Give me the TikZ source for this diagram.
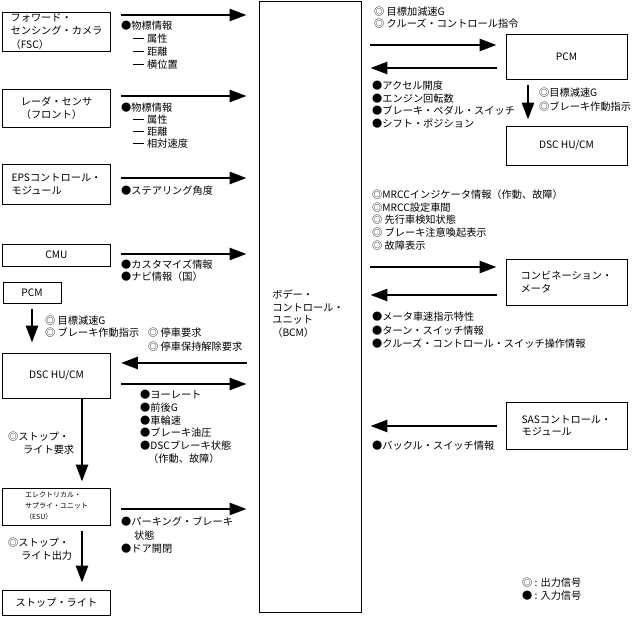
\documentclass[tikz,border=0pt]{standalone}
\usepackage{fontspec}
\setmainfont{Noto Sans CJK JP}
\usetikzlibrary{arrows.meta}
\newcommand\fsz[1]{\fontsize{10.2}{#1}\selectfont}
\newcommand\dashitem{\hspace{12pt}\rule[3.4pt]{11pt}{0.8pt}\hspace{3pt}}
\tikzset{
  every node/.style={font=\fsz{12.5}},
  box/.style={draw, line width=0.9pt, minimum width=108pt, align=left, inner sep=0pt},
  sig/.style={line width=2.6pt, -{Triangle[length=17pt,width=12pt]}},
  txt/.style={anchor=north west, align=left, inner sep=0pt},
}
\begin{document}
\begin{tikzpicture}[x=1pt,y=-1pt]
\useasboundingbox (0,0) rectangle (634,617);
% left boxes
\node[box, minimum height=39pt, font=\fsz{13.5}] (fsc) at (56.5,31.5) {フォワード・\\センシング・カメラ\\（FSC）};
\node[box, minimum height=38pt] (radar) at (56.5,108) {レーダ・センサ\\（フロント）};
\node[box, minimum height=40pt] (eps) at (56.5,184) {EPSコントロール・\\モジュール};
\node[box, minimum height=22pt] (cmu) at (56.5,255) {CMU};
\node[box, minimum width=58pt, minimum height=21pt] (pcmL) at (32,292.5) {PCM};
\node[box, minimum height=45pt] (dscL) at (56.5,375.5) {DSC HU/CM};
\node[box, minimum height=37pt, font=\fontsize{7}{11}\selectfont] (esu) at (56.5,506.5) {エレクトリカル・\\サプライ・ユニット\\（ESU）};
\node[box, minimum height=25pt] (stop) at (56.5,602.5) {ストップ・ライト};
% BCM
\node[draw, line width=0.9pt, minimum width=102pt, minimum height=611pt, inner sep=0pt] (bcm) at (310,306.5) {};
\node[txt, anchor=center] (bcmtxt) at (308,313.5) {ボデー・\\コントロール・\\ユニット\\（BCM）};
% right boxes
\node[box, minimum width=121pt, minimum height=45pt] (pcmR) at (566.5,56.5) {PCM};
\node[box, minimum width=121pt, minimum height=39pt] (dscR) at (566.5,145.5) {DSC HU/CM};
\node[box, minimum width=121pt, minimum height=46pt] (meter) at (566.5,282) {コンビネーション・\\メータ};
\node[box, minimum width=121pt, minimum height=47pt] (sas) at (566.5,425.5) {SASコントロール・\\モジュール};
% left arrows
\draw[sig, shorten <=10pt, shorten >=12pt] (fsc.east |- 0,15) -- (bcm.west |- 0,15);
\draw[sig, shorten <=10pt, shorten >=12pt] (radar.east |- 0,96) -- (bcm.west |- 0,96);
\draw[sig, shorten <=10pt, shorten >=12pt] (eps.east |- 0,178) -- (bcm.west |- 0,178);
\draw[sig, shorten <=10pt, shorten >=12pt] (cmu.east |- 0,254) -- (bcm.west |- 0,254);
\draw[sig, shorten <=12pt, shorten >=10pt] (bcm.west |- 0,363) -- (dscL.east |- 0,363);
\draw[sig, shorten <=10pt, shorten >=12pt] (dscL.east |- 0,384) -- (bcm.west |- 0,384);
\draw[sig, shorten <=10pt, shorten >=12pt] (esu.east |- 0,509) -- (bcm.west |- 0,509);
% vertical arrows
\draw[sig, shorten <=6pt, shorten >=10pt] (pcmL.south) -- (pcmL.south |- dscL.north);
\draw[sig, shorten >=6pt] (82,0 |- dscL.south) -- (82,0 |- esu.north);
\draw[sig, shorten <=6pt, shorten >=7pt] (82,0 |- esu.south) -- (82,0 |- stop.north);
\draw[sig, shorten <=6pt, shorten >=6pt] (528,0 |- pcmR.south) -- (528,0 |- dscR.north);
% right arrows
\draw[sig, shorten <=9pt, shorten >=9pt] (bcm.east |- 0,45) -- (pcmR.west |- 0,45);
\draw[sig, shorten <=9pt, shorten >=9pt] (pcmR.west |- 0,68) -- (bcm.east |- 0,68);
\draw[sig, shorten <=9pt, shorten >=9pt] (bcm.east |- 0,267) -- (meter.west |- 0,267);
\draw[sig, shorten <=9pt, shorten >=9pt] (meter.west |- 0,295) -- (bcm.east |- 0,295);
\draw[sig, shorten <=9pt, shorten >=9pt] (sas.west |- 0,426) -- (bcm.east |- 0,426);
% left labels
\node[txt, font=\fsz{13}] (l1) at (121,20.8) {●物標情報\\\dashitem 属性\\\dashitem 距離\\\dashitem 横位置};
\node[txt, font=\fsz{12}] (l2) at (121,102.8) {●物標情報\\\dashitem 属性\\\dashitem 距離\\\dashitem 相対速度};
\node[txt] (l3) at (121,185.8) {●ステアリング角度};
\node[txt, font=\fsz{11.5}] (l4) at (121,259.8) {●カスタマイズ情報\\●ナビ情報（国）};
\node[txt, font=\fsz{12}] (l5) at (45,315.8) {◎ 目標減速G\\◎ ブレーキ作動指示};
\node[txt, font=\fsz{14}] (l6) at (148,327.8) {◎ 停車要求\\◎ 停車保持解除要求};
\node[txt, font=\fsz{12.8}] (l7) at (140,389.8) {●ヨーレート\\●前後G\\●車輪速\\●ブレーキ油圧\\●DSCブレーキ状態\\\hspace{8pt}（作動、故障）};
\node[txt, font=\fsz{13}] (l8) at (8,431.8) {◎ストップ・\\\hspace{15pt}ライト要求};
\node[txt, font=\fsz{13.5}] (l9) at (121,516.8) {●パーキング・ブレーキ\\\hspace{13pt}状態\\●ドア開閉};
\node[txt, font=\fsz{13}] (l10) at (8,537.8) {◎ストップ・\\\hspace{13pt}ライト出力};
% right labels
\node[txt, font=\fsz{12}] (r1) at (374,6.8) {◎ 目標加減速G\\◎ クルーズ・コントロール指令};
\node[txt, font=\fsz{12.7}] (r2) at (372,80.8) {●アクセル開度\\●エンジン回転数\\●ブレーキ・ペダル・スイッチ\\●シフト・ポジション};
\node[txt, font=\fsz{13.5}] (r3) at (539,87.8) {◎目標減速G\\◎ブレーキ作動指示};
\node[txt, font=\fsz{12.6}] (r4) at (372,189.8) {◎MRCCインジケータ情報（作動、故障）\\◎MRCC設定車間\\◎ 先行車検知状態\\◎ ブレーキ注意喚起表示\\◎ 故障表示};
\node[txt, font=\fsz{13.5}] (r5) at (372,311.8) {●メータ車速指示特性\\●ターン・スイッチ情報\\●クルーズ・コントロール・スイッチ操作情報};
\node[txt] (r6) at (372,440.8) {●バックル・スイッチ情報};
\node[txt, font=\fsz{13}] (leg) at (522,577.8) {◎ : 出力信号\\● : 入力信号};
\end{tikzpicture}
\end{document}
